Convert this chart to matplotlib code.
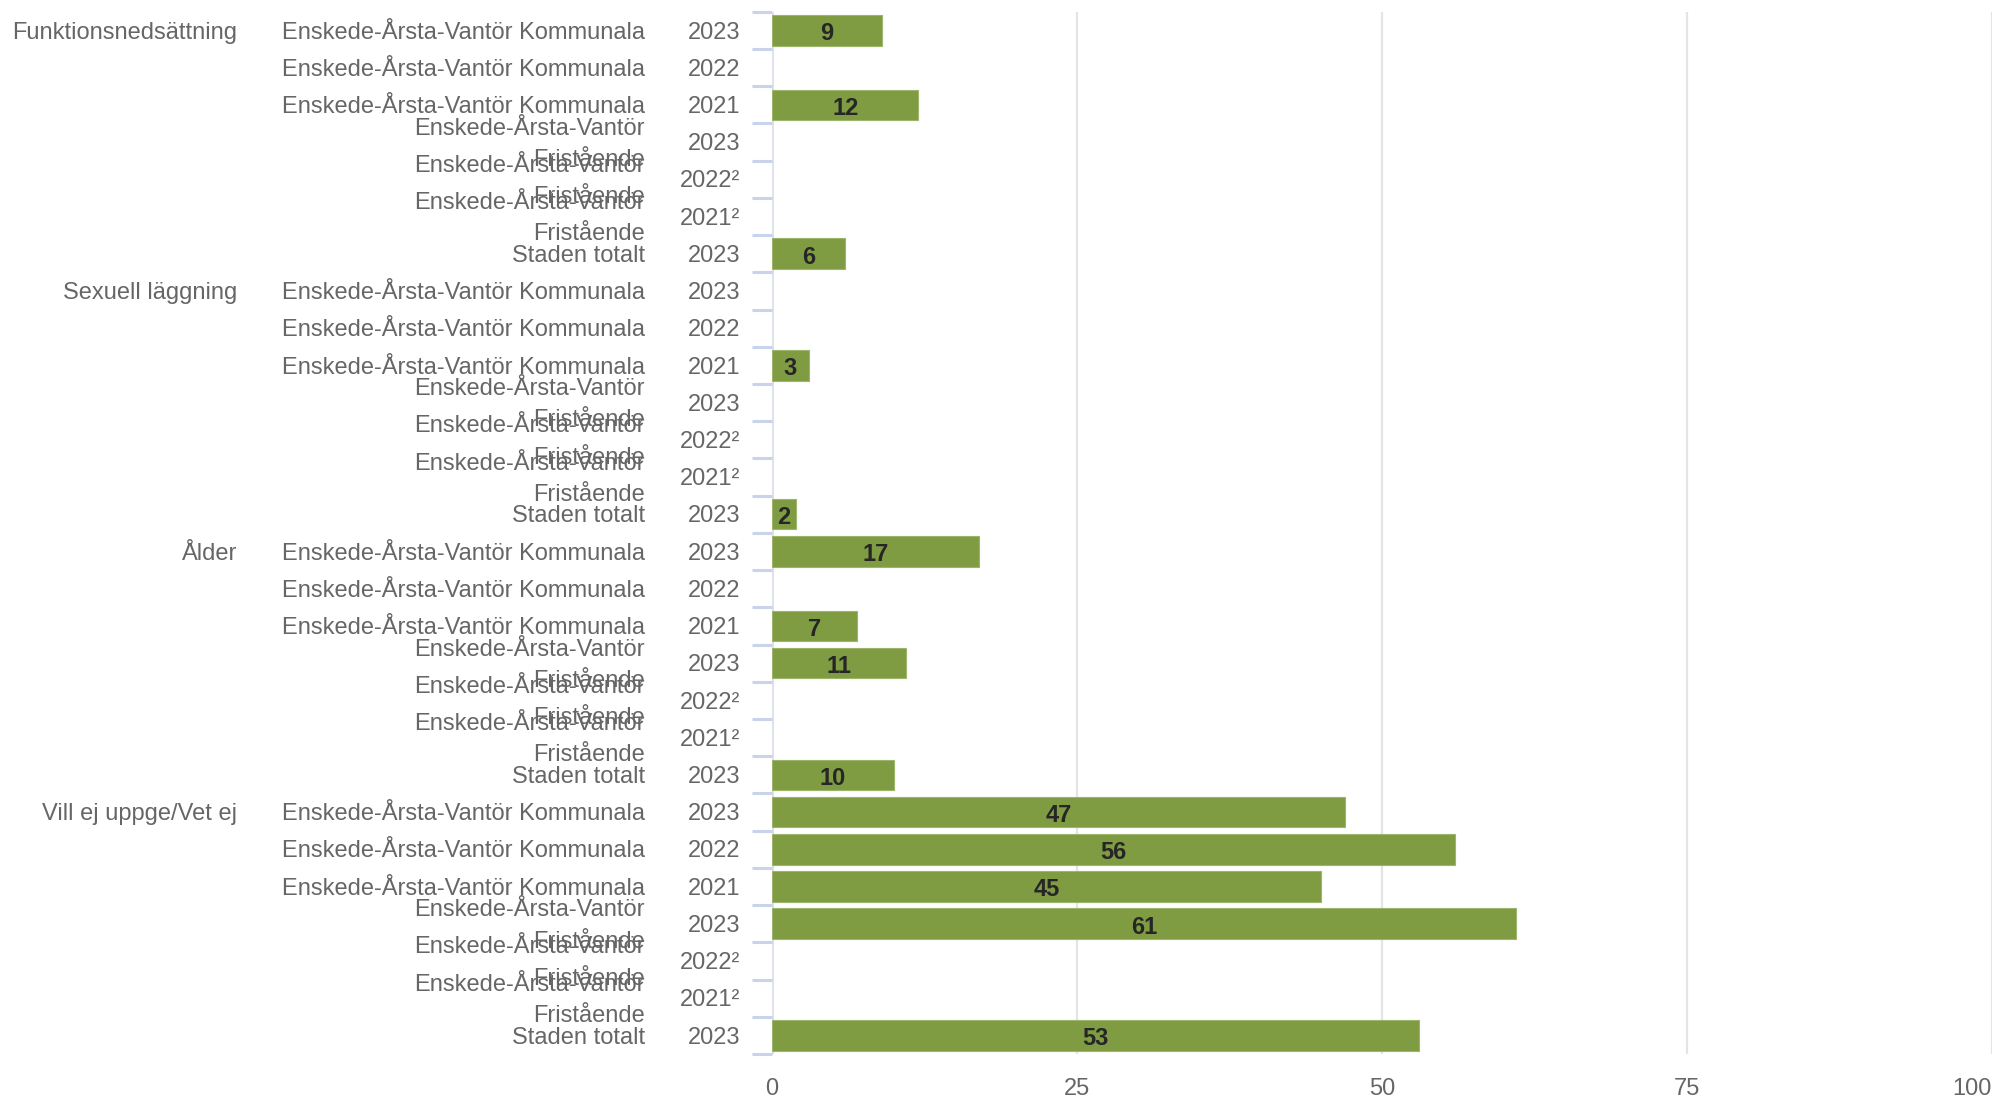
import matplotlib
matplotlib.use("Agg")
import matplotlib.pyplot as plt
import numpy as np

plt.rcParams['font.family'] = ['Liberation Sans', 'DejaVu Sans']

# Categories (outer level), units (middle level) and years (inner level)
groups = ["Funktionsnedsättning", "Sexuell läggning", "Ålder", "Vill ej uppge/Vet ej"]
units = [
    "Enskede-Årsta-Vantör Kommunala",
    "Enskede-Årsta-Vantör Kommunala",
    "Enskede-Årsta-Vantör Kommunala",
    "Enskede-Årsta-Vantör\nFristående",
    "Enskede-Årsta-Vantör\nFristående",
    "Enskede-Årsta-Vantör\nFristående",
    "Staden totalt",
]
years = ["2023", "2022", "2021", "2023", "2022²", "2021²", "2023"]

# Percent values per category (None = no value reported)
funktionsnedsattning = [9, None, 12, None, None, None, 6]
sexuell_laggning = [None, None, 3, None, None, None, 2]
alder = [17, None, 7, 11, None, None, 10]
vill_ej_uppge = [47, 56, 45, 61, None, None, 53]
series = [funktionsnedsattning, sexuell_laggning, alder, vill_ej_uppge]

xticks = [0, 25, 50, 75, 100]

W, H = 2011, 1099
fig = plt.figure(figsize=(W / 100, H / 100), dpi=100)
ax_left, ax_right = 772, 1992
ax_top, ax_bottom = 11.7, 1054
ax = fig.add_axes([ax_left / W, 1 - ax_bottom / H,
                   (ax_right - ax_left) / W, (ax_bottom - ax_top) / H])

n_rows = len(groups) * len(units)
ax.set_xlim(0, 100)
ax.set_ylim(n_rows - 0.5, -0.5)

bar_color = "#7f9c42"
text_gray = "#666666"
fs = 17
dy = 0.06  # small downward nudge of the row labels

# Vertical grid lines
for v in xticks[1:]:
    ax.axvline(v, color="#e4e4e4", lw=1.6, zorder=0)
ax.axvline(0, color="#dde2ec", lw=2.2, zorder=1)

ytr = ax.get_yaxis_transform()
axw = ax_right - ax_left


def px_to_ax(px):
    return (px - ax_left) / axw


row = 0
for g, vals in zip(groups, series):
    for j, (u, yr, v) in enumerate(zip(units, years, vals)):
        if j == 0:
            ax.text(px_to_ax(237), row + dy, g, transform=ytr, ha="right", va="center",
                    fontsize=fs, color=text_gray)
        ax.text(px_to_ax(645), row + dy, u, transform=ytr, ha="right", va="center",
                fontsize=fs, color=text_gray, linespacing=1.55, multialignment="right")
        ax.text(px_to_ax(740), row + dy, yr, transform=ytr, ha="right", va="center",
                fontsize=fs, color=text_gray)
        if v is not None:
            ax.barh(row, v, height=0.82, color=bar_color, edgecolor="#9db46c",
                    linewidth=0.8, zorder=2)
            ax.text(v / 2, row + 0.09, str(v), ha="center", va="center",
                    fontsize=fs, fontweight="bold", color="#262626", zorder=3)
        row += 1

# Row separator ticks on the left of the axis
for k in range(n_rows + 1):
    ax.plot([px_to_ax(752), 0], [k - 0.5, k - 0.5], transform=ytr,
            color="#c9d3ea", lw=2.2, clip_on=False, solid_capstyle="butt")

for s in ax.spines.values():
    s.set_visible(False)
ax.set_yticks([])
ax.set_xticks(xticks)
ax.set_xticklabels([str(t) for t in xticks], fontsize=fs, color=text_gray)
ax.tick_params(axis="x", length=0, pad=17)
ax.get_xticklabels()[-1].set_horizontalalignment("right")

fig.savefig("out.png", dpi=100, facecolor="white")
